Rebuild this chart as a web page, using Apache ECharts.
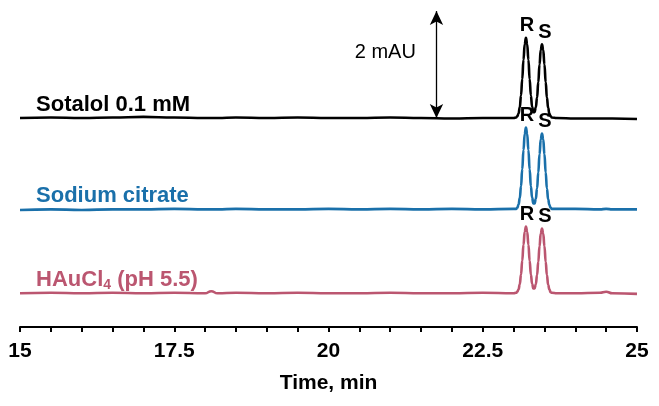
<!DOCTYPE html>
<html>
<head>
<meta charset="utf-8">
<script src="https://cdn.jsdelivr.net/npm/echarts@6/dist/echarts.min.js"></script>
<style>
  html, body { margin: 0; padding: 0; background: #fff; }
  #chart { width: 659px; height: 406px; }
</style>
</head>
<body>
<div id="chart"></div>
<script>
// migration time, min
const time = [15, 15.5, 16, 16.5, 17, 17.5, 18, 18.1, 18.2, 18.5, 19, 19.5, 20, 20.5, 21, 21.5, 22, 22.5, 23,
  23.04, 23.06, 23.08, 23.10, 23.12, 23.14, 23.16, 23.18, 23.20, 23.22, 23.24, 23.26, 23.28, 23.30,
  23.32, 23.34, 23.36, 23.38, 23.40, 23.42, 23.44, 23.46, 23.48, 23.50, 23.52, 23.54, 23.56, 23.58, 23.60, 23.62,
  23.7, 24, 24.4, 24.5, 24.6, 25];

// absorbance above each trace's own baseline, mAU
const sotalol = [0.00, 0.01, 0.00, 0.01, 0.02, 0.01, 0.00, 0.00, 0.00, 0.01, 0.00, 0.01, 0.00, 0.00, 0.01, 0.00, -0.01, 0.00, 0.00,
  0.01, 0.03, 0.08, 0.20, 0.42, 0.73, 1.09, 1.38, 1.50, 1.38, 1.09, 0.73, 0.42, 0.21,
  0.11, 0.11, 0.20, 0.38, 0.67, 1.00, 1.27, 1.38, 1.27, 1.00, 0.67, 0.38, 0.19, 0.08, 0.03, 0.01,
  0.00, -0.01, -0.01, -0.01, -0.01, -0.02];
const citrate = [-0.01, 0.00, -0.01, 0.00, 0.00, 0.01, 0.00, 0.00, 0.00, 0.01, 0.00, 0.00, 0.01, 0.00, 0.01, 0.00, 0.01, 0.00, 0.01,
  0.01, 0.03, 0.09, 0.21, 0.43, 0.75, 1.11, 1.41, 1.53, 1.41, 1.11, 0.75, 0.43, 0.22,
  0.11, 0.11, 0.20, 0.39, 0.69, 1.03, 1.31, 1.42, 1.31, 1.03, 0.69, 0.39, 0.19, 0.08, 0.03, 0.01,
  0.01, 0.01, 0.00, 0.01, 0.00, 0.00];
const haucl4 = [0.00, 0.01, 0.00, 0.01, 0.00, 0.01, 0.00, 0.04, 0.00, 0.01, 0.00, 0.01, 0.00, 0.00, 0.01, 0.00, 0.00, 0.01, 0.00,
  0.01, 0.03, 0.07, 0.17, 0.35, 0.61, 0.91, 1.15, 1.25, 1.15, 0.91, 0.61, 0.35, 0.18,
  0.09, 0.09, 0.17, 0.34, 0.59, 0.88, 1.12, 1.21, 1.12, 0.88, 0.59, 0.34, 0.16, 0.07, 0.02, 0.01,
  0.00, 0.00, 0.01, 0.03, 0.00, -0.01];

const names = ["Sotalol 0.1 mM", "Sodium citrate", "HAuCl4 (pH 5.5)"];
const traces = [sotalol, citrate, haucl4];
const offsets = [3.28, 1.57, 0];       // vertical stacking of the traces, mAU
const colors = ["#000000", "#1a70aa", "#bb5670"];
const peakTimes = [23.20, 23.46];      // R, S
const scaleBar = { time: 21.75, from: 3.28, height: 2 };  // "2 mAU"

const FONT = "'Liberation Sans', Arial, sans-serif";

const nameLabel = (i) => i === 2
  ? "{a|HAuCl}{b|4}{a| (pH 5.5)}"
  : "{a|" + names[i] + "}";

const series = traces.map((vals, i) => {
  const data = time.map((t, k) => [t, vals[k] + offsets[i]]);
  const peakVal = (pt) => vals[time.indexOf(pt)] + offsets[i];
  const mp = [
    { coord: [15.26, offsets[i]], label: { formatter: nameLabel(i), position: [0, 0], align: "left", verticalAlign: "bottom", offset: [0, -1],
        rich: {
          a: { fontFamily: FONT, fontWeight: "bold", fontSize: 22, color: colors[i], lineHeight: 25 },
          b: { fontFamily: FONT, fontWeight: "bold", fontSize: 14, color: colors[i], lineHeight: 8, verticalAlign: "bottom" }
        } } },
    { coord: [peakTimes[0], peakVal(peakTimes[0])], label: { formatter: "R", position: "top", distance: 2, offset: [1, 0] } },
    { coord: [peakTimes[1], peakVal(peakTimes[1])], label: { formatter: "S", position: "top", distance: 2, offset: [3, 0] } }
  ];
  if (i === 0) {
    mp.push({ coord: [20.92, 4.51], label: { formatter: "2 mAU", position: [0, 0], align: "center", verticalAlign: "middle",
      fontWeight: "normal", fontSize: 20 } });
  }
  const s = {
    type: "line",
    name: names[i],
    data,
    showSymbol: false,
    smooth: 0.5,
    smoothMonotone: "x",
    lineStyle: { color: colors[i], width: 2.6 },
    itemStyle: { color: colors[i] },
    z: 3 - i,
    silent: true,
    markPoint: {
      symbol: "circle", symbolSize: 0, silent: true,
      label: { show: true, color: "#000", fontFamily: FONT, fontWeight: "bold", fontSize: 20 },
      data: mp
    }
  };
  if (i === 0) {
    s.markLine = {
      silent: true,
      symbol: ["arrow", "arrow"],
      symbolSize: [10, 14],
      lineStyle: { color: "#000", width: 1.3, type: "solid" },
      label: { show: false },
      data: [[{ coord: [scaleBar.time, scaleBar.from] }, { coord: [scaleBar.time, scaleBar.from + scaleBar.height] }]]
    };
  }
  return s;
});

const chart = echarts.init(document.getElementById("chart"), null, { renderer: "canvas" });
chart.setOption({
  backgroundColor: "#fff",
  animation: false,
  grid: { left: 20, right: 22, top: 10, bottom: 79, containLabel: false, outerBoundsMode: "none" },
  xAxis: {
    type: "value", min: 15, max: 25, interval: 0.5,
    name: "Time, min", nameLocation: "middle", nameGap: 46,
    nameTextStyle: { fontFamily: FONT, fontWeight: "bold", fontSize: 21, color: "#000" },
    axisLine: { show: true, onZero: false, lineStyle: { color: "#000", width: 2 } },
    axisTick: { show: true, inside: false, length: 5, lineStyle: { color: "#000", width: 2 } },
    axisLabel: {
      margin: 14, fontFamily: FONT, fontWeight: "bold", fontSize: 21, color: "#000",
      formatter: (v) => Math.abs(v / 2.5 - Math.round(v / 2.5)) < 1e-6 ? String(v) : ""
    },
    splitLine: { show: false }
  },
  yAxis: { type: "value", min: -0.63, max: 5.3, show: false, splitLine: { show: false } },
  series
});
</script>
</body>
</html>
